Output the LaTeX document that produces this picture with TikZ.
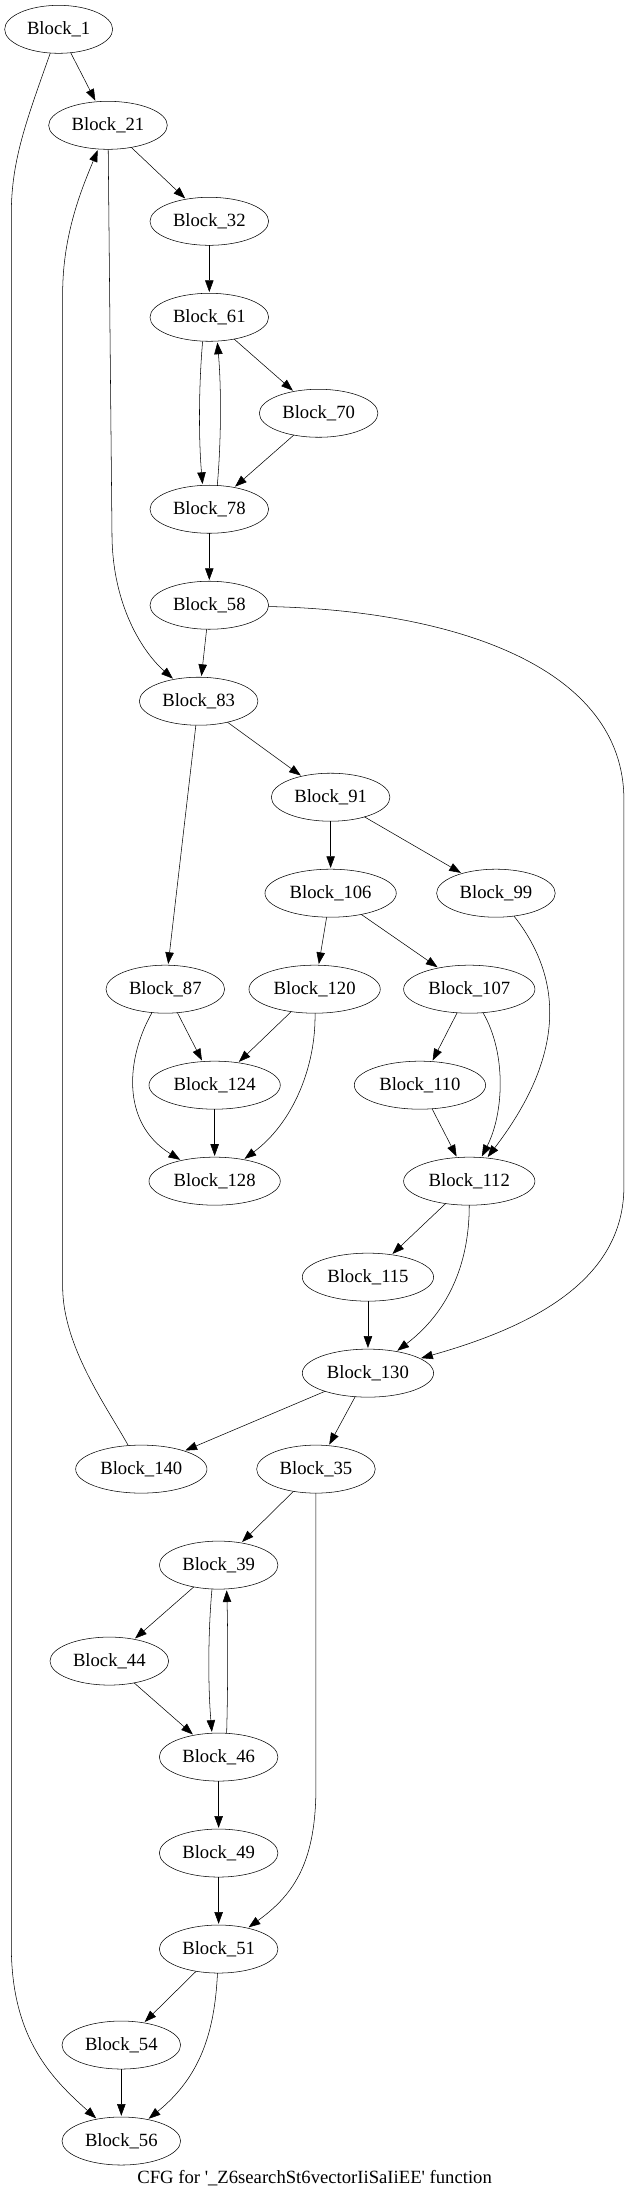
\documentclass[tikz,border=0pt]{standalone}
\usepackage{fontspec}
\setmainfont{Liberation Serif}
\usetikzlibrary{arrows.meta,shapes.geometric}
\begin{document}
\begin{tikzpicture}[x=1pt, y=-1pt]
\tikzset{ >={Triangle[length=10pt,width=7pt]}, line width=1pt, outer sep=0pt,
  blk/.style={draw, ellipse, minimum width=89pt, minimum height=36pt, inner sep=0pt,
    font=\fontsize{14pt}{16pt}\selectfont},
  wide/.style={minimum width=98.5pt},
  narrow/.style={minimum width=81pt} }

\useasboundingbox (0,0) rectangle (472.5,1651);

\node [blk, narrow] (B1) at (44,22) {Block\_1};
\node [blk] (B21) at (81,94) {Block\_21};
\node [blk] (B32) at (157,166) {Block\_32};
\node [blk] (B61) at (157,238) {Block\_61};
\node [blk] (B70) at (239,310) {Block\_70};
\node [blk] (B78) at (157,382) {Block\_78};
\node [blk] (B58) at (157,454) {Block\_58};
\node [blk] (B83) at (149,526) {Block\_83};
\node [blk] (B91) at (248,598) {Block\_91};
\node [blk, wide] (B106) at (248,670) {Block\_106};
\node [blk] (B99) at (372,670) {Block\_99};
\node [blk] (B87) at (124,742) {Block\_87};
\node [blk, wide] (B120) at (236,742) {Block\_120};
\node [blk, wide] (B107) at (352,742) {Block\_107};
\node [blk, wide] (B124) at (161,814) {Block\_124};
\node [blk, wide] (B110) at (315,814) {Block\_110};
\node [blk, wide] (B128) at (161,886) {Block\_128};
\node [blk, wide] (B112) at (352,886) {Block\_112};
\node [blk, wide] (B115) at (276,958) {Block\_115};
\node [blk, wide] (B130) at (276,1030) {Block\_130};
\node [blk, wide] (B140) at (106,1102) {Block\_140};
\node [blk] (B35) at (237,1102) {Block\_35};
\node [blk] (B39) at (164,1174) {Block\_39};
\node [blk] (B44) at (82,1246) {Block\_44};
\node [blk] (B46) at (164,1318) {Block\_46};
\node [blk] (B49) at (164,1390) {Block\_49};
\node [blk] (B51) at (164,1462) {Block\_51};
\node [blk] (B54) at (91,1534) {Block\_54};
\node [blk] (B56) at (91,1606) {Block\_56};

\node [font=\fontsize{14pt}{16pt}\selectfont] (CAP) at (236,1634)
  {CFG for \textquotesingle\_Z6searchSt6vectorIiSaIiEE\textquotesingle{} function};

% straight edges
\draw [->] (B1)   -- (B21);
\draw [->] (B21)  -- (B32);
\draw [->] (B32)  -- (B61);
\draw [->] (B61)  -- (B70);
\draw [->] (B70)  -- (B78);
\draw [->] (B78)  -- (B58);
\draw [->] (B58)  -- (B83);
\draw [->] (B83)  -- (B91);
\draw [->] (B83)  -- (B87);
\draw [->] (B91)  -- (B106);
\draw [->] (B91)  -- (B99);
\draw [->] (B106) -- (B120);
\draw [->] (B106) -- (B107);
\draw [->] (B87)  -- (B124);
\draw [->] (B120) -- (B124);
\draw [->] (B124) -- (B128);
\draw [->] (B107) -- (B110);
\draw [->] (B110) -- (B112);
\draw [->] (B112) -- (B115);
\draw [->] (B115) -- (B130);
\draw [->] (B130) -- (B140);
\draw [->] (B130) -- (B35);
\draw [->] (B35)  -- (B39);
\draw [->] (B39)  -- (B44);
\draw [->] (B44)  -- (B46);
\draw [->] (B46)  -- (B49);
\draw [->] (B49)  -- (B51);
\draw [->] (B51)  -- (B54);
\draw [->] (B54)  -- (B56);

% loops between neighbours
\draw [->] ([xshift=-5pt]B61.south) .. controls (149,290) and (149,330) .. ([xshift=-5pt]B78.north);
\draw [->] ([xshift=6pt]B78.north) .. controls (166,330) and (166,290) .. ([xshift=6pt]B61.south);
\draw [->] ([xshift=-5pt]B39.south) .. controls (156,1225) and (156,1265) .. ([xshift=-5pt]B46.north);
\draw [->] ([xshift=6pt]B46.north) .. controls (171,1265) and (171,1225) .. ([xshift=6pt]B39.south);

% curved edges
\draw [->] (B1) .. controls (20,90) and (8.5,120) .. (8.5,160) -- (8.5,1460)
  .. controls (8.5,1530) and (40,1560) .. (B56);
\draw [->] (B21) -- (84,400) .. controls (84,455) and (108,490) .. (B83);
\draw [->] (B140) .. controls (80,1055) and (47,1010) .. (47,965) -- (47,220)
  .. controls (47,175) and (62,140) .. (B21);
\draw [->] (B58) .. controls (340,458) and (468,500) .. (468,600) -- (468,890)
  .. controls (468,960) and (400,995) .. (B130);
\draw [->] (B99) .. controls (430,743.5) and (415,803.5) .. (B112);
\draw [->] (B87) .. controls (95,793) and (90,842) .. (B128);
\draw [->] (B120) .. controls (237,800) and (220,842) .. (B128);
\draw [->] (B107) .. controls (380,790) and (378,835) .. (B112);
\draw [->] (B112) .. controls (352,950) and (335,985) .. (B130);
\draw [->] (B35) -- (237,1340) .. controls (237,1395) and (222,1420) .. (B51);
\draw [->] (B51) .. controls (161,1525) and (150,1558) .. (B56);
\end{tikzpicture}
\end{document}
